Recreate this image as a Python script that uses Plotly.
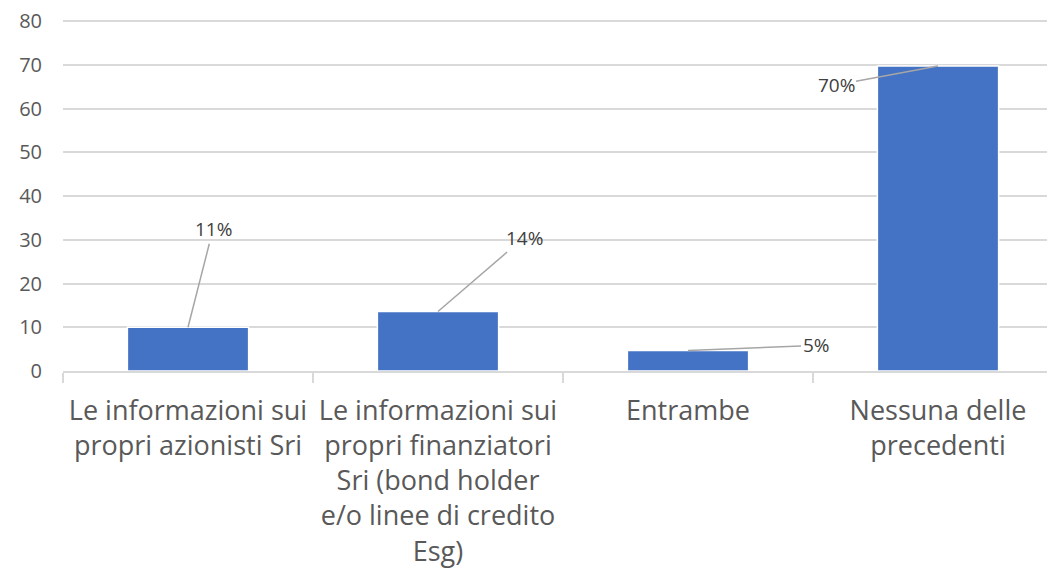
import plotly.graph_objects as go

categories = [
    "Le informazioni sui<br>propri azionisti Sri",
    "Le informazioni sui<br>propri finanziatori<br>Sri (bond holder<br>e/o linee di credito<br>Esg)",
    "Entrambe",
    "Nessuna delle<br>precedenti",
]
values = [10.0, 13.6, 4.7, 69.8]
labels = ["11%", "14%", "5%", "70%"]
# pixel offsets of each label from the top of its bar
label_dx = [25, 86, 128, -102]
label_dy = [-98, -74, -5, 19]

BLUE = "#4472C4"
TEXT = "#404040"
GRID = "#D9D9D9"
FONT = "Open Sans, Noto Sans, sans-serif"

fig = go.Figure(go.Bar(
    x=categories,
    y=values,
    marker=dict(color=BLUE, line=dict(color="white", width=1.5)),
    hoverinfo="skip",
))

for i, (v, lab) in enumerate(zip(values, labels)):
    fig.add_annotation(
        x=categories[i], y=v, text=lab, showarrow=True, arrowhead=0, arrowwidth=1.5,
        arrowcolor="#A6A6A6", ax=label_dx[i], ay=label_dy[i],
        font=dict(family=FONT, size=19, color=TEXT),
    )

# page body adds 8px, so margins are trimmed to land the plot where the reference has it
fig.update_layout(
    width=1055, height=582,
    margin=dict(l=55, r=0, t=12, b=219),
    plot_bgcolor="white", paper_bgcolor="white",
    bargap=0.515, showlegend=False,
    font=dict(family=FONT, color=TEXT),
)
fig.update_xaxes(
    type="category", range=[-0.5, 3.5],
    tickfont=dict(size=27, color="#595959"),
    showline=True, linecolor=GRID, linewidth=1.5,
    ticks="outside", tickson="boundaries", ticklen=10, tickcolor=GRID, tickwidth=1.5,
    ticklabelstandoff=15,
    showgrid=False, zeroline=False,
)
fig.update_yaxes(
    range=[0, 80.3], tickvals=[0, 10, 20, 30, 40, 50, 60, 70, 80],
    tickfont=dict(size=20, color="#595959"),
    showgrid=True, gridcolor=GRID, gridwidth=1.5,
    zeroline=False, ticklabelstandoff=20, ticklabeloverflow="allow",
)

fig.write_html("out.html")
